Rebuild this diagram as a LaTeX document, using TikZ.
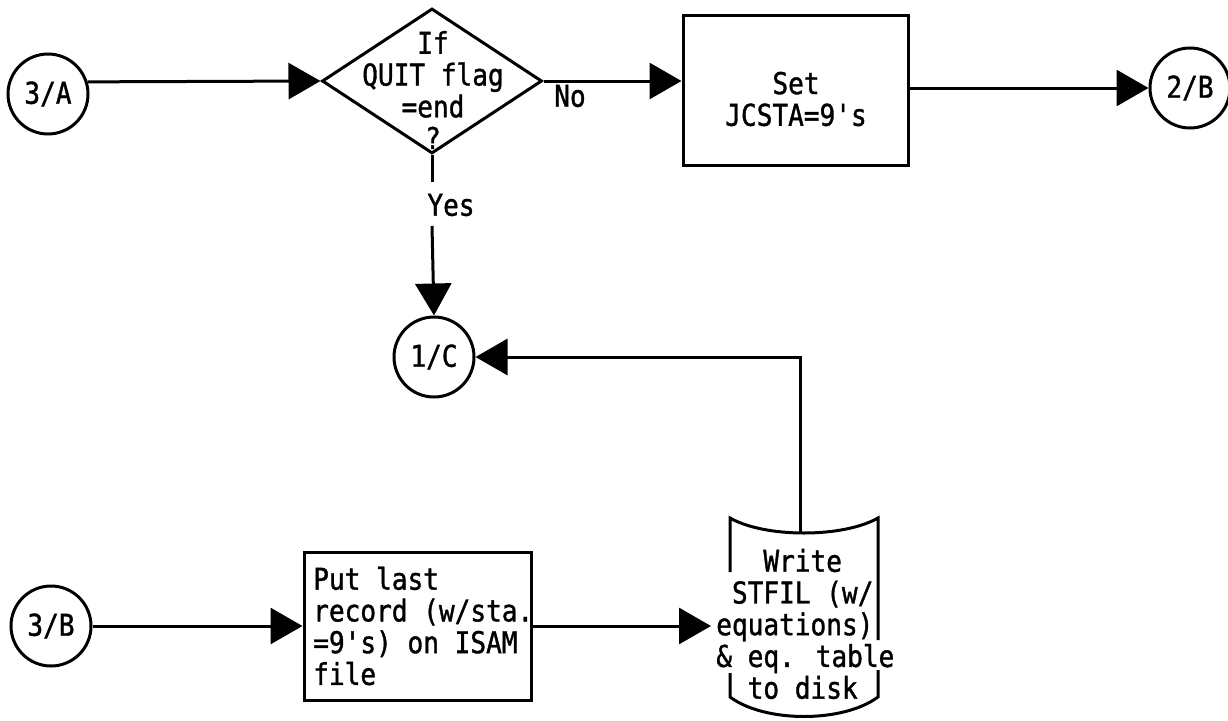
\documentclass[tikz,border=0pt]{standalone}
\usepackage{fontspec}
\newfontfamily\tw[FakeStretch=0.87,FakeBold=1.2]{DejaVu Sans Mono}
\usetikzlibrary{arrows.meta,shapes.geometric}
\begin{document}
\begin{tikzpicture}[x=0.75pt,y=-0.75pt,
  every node/.style={font=\tw\fontsize{22.5}{23.8}\selectfont, inner sep=0pt},
  ln/.style={line width=2.25pt},
  arr/.style={ln,-{Triangle[length=24pt,width=27pt]}},
  conn/.style={circle, draw, ln, minimum size=60pt},
  procbox/.style={draw, ln}]
\useasboundingbox (0,0) rectangle (1228,721);
% top row
\node[conn] (a3) at (48,94) {3/A};
\node[diamond, draw, ln, minimum width=165pt, minimum height=108.75pt] (d) at (432,81) {};
\node[align=center] (dt) at (433,90) {If\\QUIT flag\\=end\\?};
\node[procbox, minimum width=168.75pt, minimum height=112.5pt] (s) at (795.5,90) {};
\node[align=center] (st) at (796,99) {Set\\JCSTA=9's};
\node[conn] (b2) at (1190,88) {2/B};
\node (no) at (570,96) {No};
\node (yes) at (451,205) {Yes};
\node[conn] (c1) at (434,357) {1/C};
\coordinate (y1) at (432,182);
\coordinate (y2) at (432,226);
\draw[arr] (a3.17) -- (d.west);
\draw[arr] (d.east) -- (d.east -| s.west);
\draw[arr] (s.east |- b2) -- (b2.west);
\draw[ln] (d.south) -- (y1);
\draw[arr] (y2) -- (c1.north);
% bottom row
\node[conn] (b3) at (51,626) {3/B};
\node[procbox, minimum width=170.25pt, minimum height=111pt] (p) at (417.5,626) {};
\node[anchor=west, align=left] (pt) at (313,626) {Put last\\record (w/sta.\\=9's) on ISAM\\file};
\coordinate (win) at (711,626);
\coordinate (dtop) at (800,533);
\draw[ln] (730,572) -- (730,518) .. controls (765,538) and (843,538) .. (878,518) -- (878,640);
\draw[ln] (730,673) -- (730,697) .. controls (765,723) and (843,723) .. (878,697) -- (878,670);
\node[anchor=west, align=left] (wt) at (716,624) {~~~Write\\~STFIL (w/\\equations)\\\& eq. table\\~~to disk};
\draw[arr] (b3.east) -- (p.west);
\draw[arr] (p.east) -- (win);
\draw[arr] (dtop) |- (c1.east);
\end{tikzpicture}
\end{document}
